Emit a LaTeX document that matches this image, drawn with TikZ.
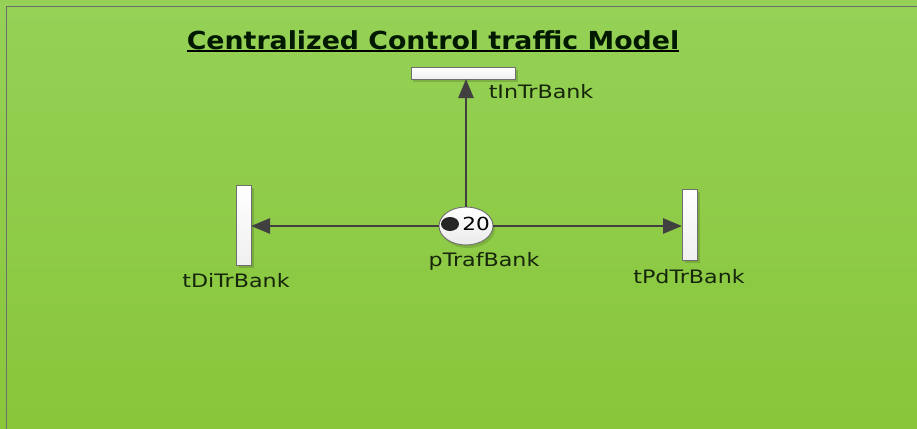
\documentclass[tikz,border=0pt]{standalone}
\usepackage{fontspec}
\setmainfont{DejaVu Sans}
\newfontfamily\lblfont[FakeStretch=1.2]{DejaVu Sans}
\newfontfamily\ttlfont[FakeStretch=1.08]{DejaVu Sans}
\usetikzlibrary{arrows.meta,shapes.geometric}
\definecolor{bgtop}{RGB}{149,209,86}
\definecolor{bgbot}{RGB}{137,198,58}
\definecolor{arrcol}{RGB}{64,64,64}
\definecolor{lblcol}{RGB}{22,38,10}
\definecolor{rimcol}{RGB}{110,110,110}
\begin{document}
\begin{tikzpicture}[x=1pt,y=-1pt,
  trans/.style={draw=rimcol, top color=white, bottom color=black!6, line width=0.9pt, inner sep=0pt, outer sep=0pt,
    minimum width=#1},
  lbl/.style={font=\lblfont\fontsize{18.5}{20}\selectfont, text=lblcol, inner sep=0pt},
  arr/.style={draw=arrcol, line width=2.7pt, -{Triangle[length=19pt,width=15pt]}}]
\useasboundingbox (0,0) rectangle (917,428);
\shade[top color=bgtop, bottom color=bgbot] (0,0) rectangle (917,428);
\draw[rimcol, line width=1.5pt] (6.5,432) -- (6.5,6.5) -- (920,6.5);
% title
\node[font=\ttlfont\bfseries\fontsize{24.8}{28}\selectfont, text=black!90!green, inner sep=0pt] (title) at (433,40) {Centralized Control traffic Model};
\draw[black, line width=2pt] (title.south west) ++(0,1.5) coordinate (ul) -- (ul -| title.south east);
% shadows
\fill[black, opacity=0.15] (413,70) rectangle (518,82);
\fill[black, opacity=0.15] (239,188) rectangle (254,268);
\fill[black, opacity=0.15] (685,192) rectangle (700,263);
\fill[black, opacity=0.12] (468,229) ellipse (27pt and 19pt);
% transitions
\node[trans=104pt, minimum height=12pt] (tIn) at (463,73) {};
\node[trans=15pt, minimum height=80pt] (tDi) at (243.5,225) {};
\node[trans=15pt, minimum height=71pt] (tPd) at (689.5,224.5) {};
% place
\node[ellipse, draw=rimcol, top color=white, bottom color=black!8, line width=0.9pt, minimum width=54pt, minimum height=38pt, inner sep=0pt] (p) at (466,226) {};
\fill[black!85] (450,224) ellipse (9pt and 7pt);
\node[font=\lblfont\fontsize{18}{20}\selectfont, text=black, inner sep=0pt] (tok) at (476,224) {20};
% labels
\node[lbl] (lIn) at (541,92) {tInTrBank};
\node[lbl] (lDi) at (236,281) {tDiTrBank};
\node[lbl] (lPd) at (689,277) {tPdTrBank};
\node[lbl] (lP) at (484,261) {pTrafBank};
% arcs
\draw[arr] (p.north) -- (p.north |- tIn.south);
\draw[arr] (p.west) -- (tDi.east |- p.west);
\draw[arr] (p.east) -- (tPd.west |- p.east);
\end{tikzpicture}
\end{document}
